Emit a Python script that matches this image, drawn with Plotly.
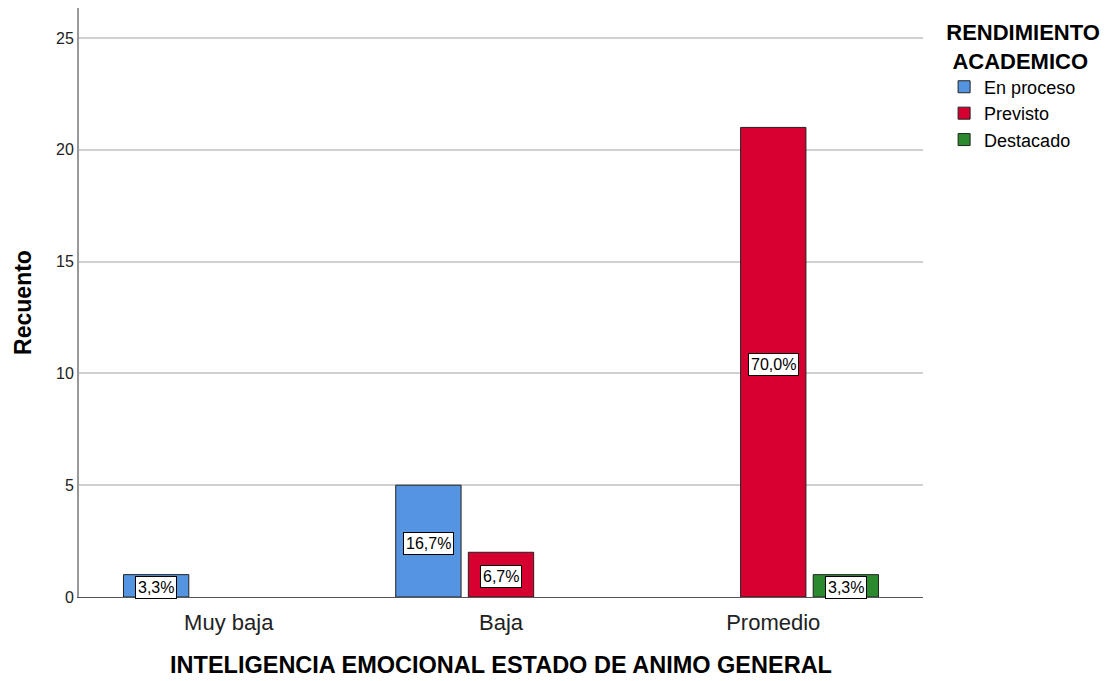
import plotly.graph_objects as go

# Datos
categorias = ["Muy baja", "Baja", "Promedio"]
en_proceso = [1, 5, 0]
previsto = [0, 2, 21]
destacado = [0, 0, 1]
series = ["En proceso", "Previsto", "Destacado"]
colores = ["#5594E1", "#D5002F", "#2C8A2E"]
valores = [en_proceso, previsto, destacado]
total = sum(en_proceso) + sum(previsto) + sum(destacado)

fuente = "Arial, Liberation Sans, sans-serif"
bargap = 0.2

fig = go.Figure()
for nombre, color, vals in zip(series, colores, valores):
    # las barras de recuento 0 no se dibujan
    fig.add_trace(go.Bar(x=categorias, y=[v if v else None for v in vals], name=nombre,
                         marker=dict(color=color, line=dict(color="#222222", width=1))))

# Etiquetas de porcentaje en cajas blancas
ancho = (1 - bargap) / len(series)
for j, vals in enumerate(valores):
    for i, v in enumerate(vals):
        if v > 0:
            pct = f"{100 * v / total:.1f}%".replace(".", ",")
            fig.add_annotation(x=i + (j - 1) * ancho, y=v / 2, text=pct, showarrow=False,
                               yshift=-2, font=dict(family=fuente, size=16, color="#000000"),
                               bgcolor="white", bordercolor="#000000", borderwidth=1, borderpad=2)

# la página añade 8px de margen al body, por eso la figura es algo menor
fig.update_layout(
    width=1100, height=673,
    margin=dict(l=71, r=185, t=0, b=84, autoexpand=False),
    paper_bgcolor="white", plot_bgcolor="white",
    barmode="group", bargap=bargap, bargroupgap=0.1,
    font=dict(family=fuente, color="#000000"),
    legend=dict(xref="container", x=0.851, xanchor="left", yref="container", y=0.995, yanchor="top",
                font=dict(family=fuente, size=18),
                title=dict(text="<b>RENDIMIENTO<br>&nbsp;ACADEMICO</b>", side="top center",
                           font=dict(family=fuente, size=22))),
    xaxis=dict(title=dict(text="<b>INTELIGENCIA EMOCIONAL ESTADO DE ANIMO GENERAL</b>",
                          font=dict(family=fuente, size=23.5), standoff=22),
               range=[-0.55, 2.55], showline=True, linecolor="#555555", linewidth=1,
               showgrid=False, tickfont=dict(family=fuente, size=22, color="#222222"),
               ticks="outside", ticklen=6, tickcolor="white"),
    yaxis=dict(title=dict(text="<b>Recuento</b>", font=dict(family=fuente, size=23), standoff=18),
               range=[0, 26.34], tickvals=[0, 5, 10, 15, 20, 25], showline=True,
               linecolor="#999999", linewidth=2, gridcolor="#D0D0D0", gridwidth=2,
               zeroline=False, tickfont=dict(family=fuente, size=16, color="#222222")),
)

fig.write_html("out.html")
